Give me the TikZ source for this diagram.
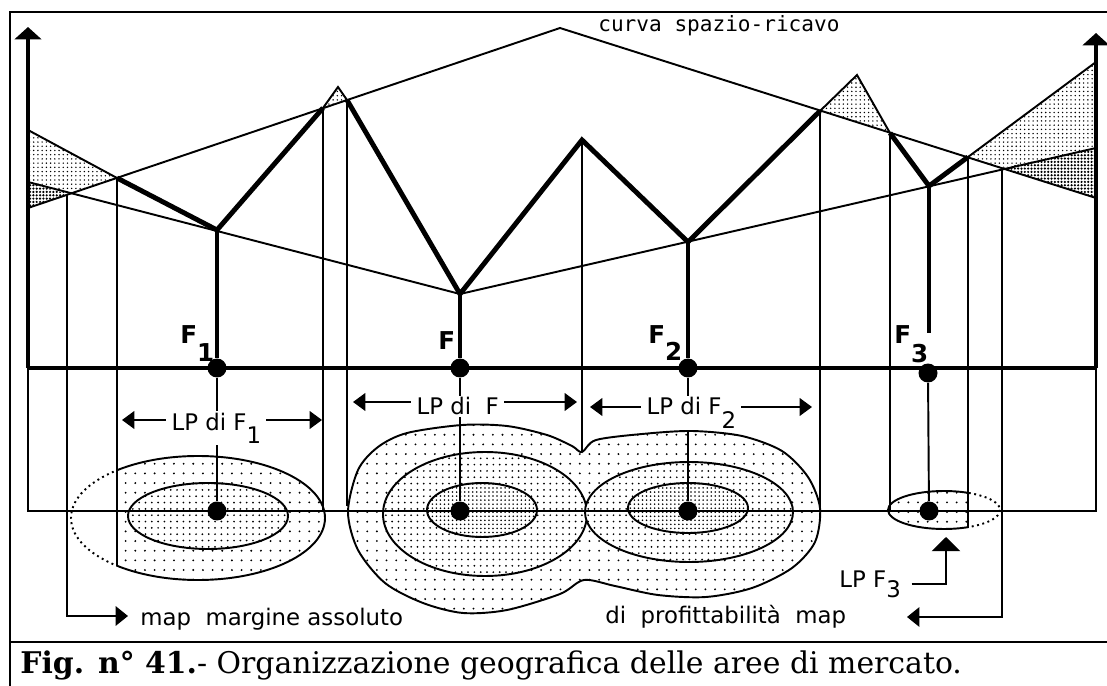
\documentclass[tikz,border=0pt]{standalone}
\usepackage{fontspec}
\newfontfamily\genevafont{DejaVu Sans}
\newfontfamily\monacofont{DejaVu Sans Mono}
\newfontfamily\newyorkfont{DejaVu Serif}
\usetikzlibrary{arrows.meta,patterns.meta}

\newcommand{\lowidx}[2][.6em]{\raisebox{-#1}{#2}}

\tikzset{
  thinln/.style={line width=1.1pt},
  thickln/.style={line width=2.8pt},
  axisarrow/.style={line width=2.8pt,-{Triangle[length=7pt,width=15pt]}},
  headr/.style={thinln,-{Triangle[length=7pt,width=11pt]}},
  lpspan/.style={thinln,{Triangle[length=7pt,width=10pt]}-{Triangle[length=7pt,width=10pt]}},
  firmdot/.style={circle,fill,inner sep=0pt,minimum size=0.38cm},
  lbl/.style={font=\genevafont\fontsize{13}{15}\selectfont,inner sep=0pt,anchor=base west},
  lplbl/.style={lbl,fill=white,inner xsep=3pt,inner ysep=1pt},
  firm/.style={font=\genevafont\bfseries\fontsize{14}{16}\selectfont,inner sep=0pt,anchor=base west},
  lightdots/.style={pattern={Dots[distance=2.4pt,radius=.45pt]}},
  darkdots/.style={pattern={Dots[distance=1.9pt,radius=.7pt]}},
  fewdots/.style={preaction={fill=white},pattern={Dots[distance=5.5pt,radius=.6pt]}},
  middots/.style={preaction={fill=white},pattern={Dots[distance=3.6pt,radius=.55pt]}},
  manydots/.style={preaction={fill=white},pattern={Dots[distance=2.3pt,radius=.5pt]}}
}

\begin{document}
\begin{tikzpicture}[x=0.02cm,y=-0.02cm]
\useasboundingbox (0,0) rectangle (1107,686);

\def\basey{368}
\def\mapy{511}

\draw[line width=1.2pt] (10,686) -- (10,12) -- (1107,12);
\draw[line width=1.2pt] (10,642) -- (1107,642);

\coordinate (PL1) at (28,130);
\coordinate (PL2) at (28,182);
\coordinate (PL3) at (28,208);
\coordinate (XL) at (67,194);
\coordinate (A1) at (117,178);
\coordinate (F1b) at (217,230);
\coordinate (B1) at (323,108);
\coordinate (T1) at (338,87);
\coordinate (B2) at (347,100);
\coordinate (Fb) at (460,294);
\coordinate (Pk) at (582,140);
\coordinate (F2b) at (688,242);
\coordinate (C1) at (820,111);
\coordinate (T2) at (857,75);
\coordinate (C2) at (890,133);
\coordinate (F3b) at (929,186);
\coordinate (C3) at (968,157);
\coordinate (XR) at (1002,168);
\coordinate (PR1) at (1096,62);
\coordinate (PR2) at (1096,148);
\coordinate (PR3) at (1096,198);
\coordinate (Top) at (560,28);

\coordinate (axl) at (28,\basey);
\coordinate (axltop) at (28,27);
\coordinate (axr) at (1096,\basey);
\coordinate (axrtop) at (1096,33);
\coordinate (maplft) at (28,\mapy);
\coordinate (maprgt) at (1096,\mapy);

% curva spazio-ricavo e costi
\fill[lightdots] (PL1) -- (A1) -- (XL) -- (PL2) -- cycle;
\fill[darkdots] (PL2) -- (XL) -- (PL3) -- cycle;
\fill[lightdots] (B1) -- (T1) -- (B2) -- cycle;
\fill[lightdots] (C1) -- (T2) -- (C2) -- cycle;
\fill[lightdots] (C3) -- (PR1) -- (PR2) -- (XR) -- cycle;
\fill[darkdots] (XR) -- (PR2) -- (PR3) -- cycle;

\draw[thinln] (PL3) -- (Top) -- (PR3);
\draw[thinln] (PL2) -- (Fb) -- (PR2);
\draw[thinln] (PL1) -- (A1);
\draw[thinln] (B1) -- (T1) -- (B2);
\draw[thinln] (C1) -- (T2) -- (C2);
\draw[thinln] (C3) -- (PR1);

\draw[thickln] (A1) -- (F1b) -- (B1);
\draw[thickln] (B2) -- (Fb) -- (Pk) -- (F2b) -- (C1);
\draw[thickln] (C2) -- (F3b) -- (C3);

\node[lbl,font=\monacofont\fontsize{12}{14}\selectfont] (curva) at (598,32) {curva spazio-ricavo};

% aree di mercato
\begin{scope}
  \clip (117,400) rectangle (400,600);
  \draw[thinln,fewdots] (198,518) ellipse [x radius=127, y radius=62];
\end{scope}
\begin{scope}
  \clip (40,400) rectangle (117,600);
  \draw[thinln,dotted] (198,518) ellipse [x radius=127, y radius=62];
\end{scope}
\draw[thinln,middots] (208,516) ellipse [x radius=80, y radius=33];

\draw[thinln,fewdots] plot[smooth cycle] coordinates {
  (582,452) (596,440) (642,434) (692,431) (742,436) (782,451) (808,477)
  (820,508) (815,542) (792,568) (752,588) (706,597) (658,595) (615,586)
  (584,580) (560,594) (507,610) (463,613) (423,603) (385,583) (358,550)
  (348,512) (358,470) (378,447) (407,433) (462,425) (507,426) (547,435)
  (572,446)};
\draw[thinln,middots] (485,514) ellipse [x radius=102, y radius=62];
\draw[thinln,middots] (689,512) ellipse [x radius=104, y radius=50];
\draw[thinln,manydots] (482,510) ellipse [x radius=55, y radius=27];
\draw[thinln,manydots] (688,508) ellipse [x radius=60, y radius=25];

\begin{scope}
  \clip (880,480) rectangle (968,540);
  \draw[thinln,fewdots] (944,510) ellipse [x radius=56, y radius=19];
\end{scope}
\begin{scope}
  \clip (968,480) rectangle (1010,540);
  \draw[thinln,dotted] (944,510) ellipse [x radius=56, y radius=19];
\end{scope}

% assi
\draw[axisarrow] (axl) -- (axltop);
\draw[axisarrow] (axr) -- (axrtop);
\draw[line width=2.3pt] (axl) -- (axr);
\draw[thinln] (axl) -- (maplft) -- (maprgt) -- (axr);

% proiezioni
\coordinate (A1e) at (117,566);
\coordinate (B2e) at (347,506);
\coordinate (Pke) at (582,452);
\coordinate (C3e) at (968,528);
\draw[thinln] (A1) -- (A1e);
\draw[thinln] (B1) -- (B1 |- maplft);
\draw[thinln] (B2) -- (B2e);
\draw[thinln] (Pk) -- (Pke);
\draw[thinln] (C1) -- (C1 |- maplft);
\draw[thinln] (C2) -- (C2 |- maplft);
\draw[thinln] (C3) -- (C3e);

\coordinate (mapl) at (128,616);
\coordinate (mapr) at (907,617);
\draw[headr] (XL) -- (XL |- mapl) -- (mapl);
\draw[headr] (XR) -- (XR |- mapr) -- (mapr);

% imprese
\node[firmdot] (d1) at (217,\basey) {};
\node[firmdot] (d0) at (460,\basey) {};
\node[firmdot] (d2) at (688,\basey) {};
\node[firmdot] (d3) at (928,373) {};
\node[firmdot] (m1) at (217,\mapy) {};
\node[firmdot] (m0) at (460,\mapy) {};
\node[firmdot] (m2) at (688,\mapy) {};
\node[firmdot] (m3) at (929,\mapy) {};
\coordinate (f3gap) at (929,333);

\draw[thickln] (F1b) -- (d1);
\draw[thickln] (Fb) -- (d0);
\draw[thickln] (F2b) -- (d2);
\draw[thickln] (F3b) -- (f3gap);
\draw[thinln] (d1) -- (m1);
\draw[thinln] (d0) -- (m0);
\draw[thinln] (d2) -- (m2);
\draw[thinln] (d3) -- (m3);

\node[firm] (fone) at (180,343) {F\lowidx[.75em]{1}};
\node[firm] (fzero) at (438,350) {F};
\node[firm] (ftwo) at (648,343) {F\lowidx[.7em]{2}};
\node[firm] (fthree) at (894,343) {F\lowidx[.8em]{3}};

% limiti di profittabilita
\coordinate (lp1a) at (122,420);
\coordinate (lp1b) at (322,420);
\coordinate (lp0a) at (353,402);
\coordinate (lp0b) at (577,402);
\coordinate (lp2a) at (590,407);
\coordinate (lp2b) at (812,407);
\draw[lpspan] (lp1a) -- (lp1b);
\draw[lpspan] (lp0a) -- (lp0b);
\draw[lpspan] (lp2a) -- (lp2b);
\node[lplbl] (lpone) at (166,430) {LP di F\lowidx{1}};
\node[lplbl] (lpzero) at (411,415) {LP di\ \ F};
\node[lplbl] (lptwo) at (641,415) {LP di F\lowidx{2}};

\node[lbl] (lpthree) at (839,587) {LP F\lowidx[.45em]{3}};
\coordinate (hook) at (946,537);
\draw[thinln,-{Triangle[length=8pt,width=16pt]}] ([xshift=6pt]lpthree.east) -| (hook);

\node[lbl] (mapmarg) at (140,625) {map\ \ margine assoluto};
\node[lbl] (mapprof) at (605,623) {di\ \ profittabilità\ \ map};

\node[anchor=base west,inner sep=0pt,font=\newyorkfont\fontsize{17}{20}\selectfont] (caption) at (20,673)
  {\textbf{Fig. n° 41.}- Organizzazione geografica delle aree di mercato.};

\end{tikzpicture}
\end{document}
